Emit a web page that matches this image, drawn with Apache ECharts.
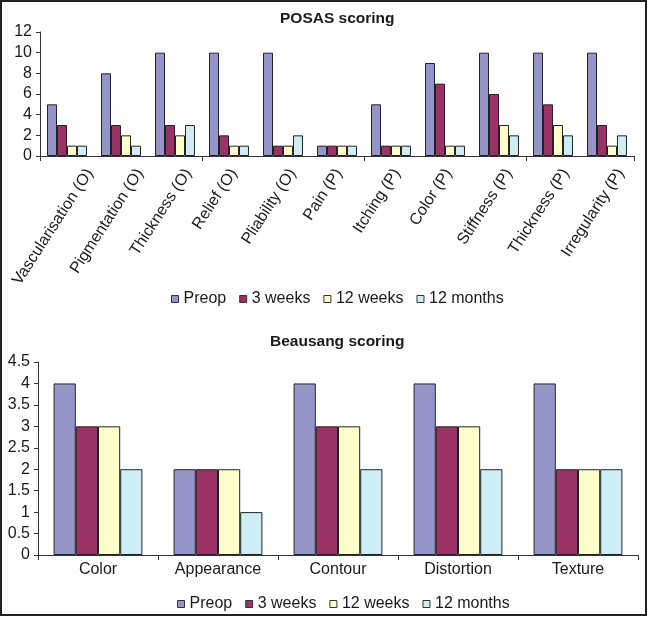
<!DOCTYPE html>
<html>
<head>
<meta charset="utf-8">
<script src="https://cdn.jsdelivr.net/npm/echarts@6/dist/echarts.min.js"></script>
<style>
html,body{margin:0;padding:0;background:#fff;}
#c{width:648px;height:617px;}
</style>
</head>
<body>
<div id="c"></div>
<script>
// ---- Data ----
var seriesNames = ['Preop', '3 weeks', '12 weeks', '12 months'];

var posasCategories = ['Vascularisation (O)', 'Pigmentation (O)', 'Thickness (O)', 'Relief (O)', 'Pliability (O)',
  'Pain (P)', 'Itching (P)', 'Color (P)', 'Stiffness (P)', 'Thickness (P)', 'Irregularity (P)'];
var posasPreop    = [5, 8, 10, 10, 10, 1, 5, 9, 10, 10, 10];
var posas3weeks   = [3, 3, 3, 2, 1, 1, 1, 7, 6, 5, 3];
var posas12weeks  = [1, 2, 2, 1, 1, 1, 1, 1, 3, 3, 1];
var posas12months = [1, 1, 3, 1, 2, 1, 1, 1, 2, 2, 2];

var beauCategories = ['Color', 'Appearance', 'Contour', 'Distortion', 'Texture'];
var beauPreop    = [4, 2, 4, 4, 4];
var beau3weeks   = [3, 2, 3, 3, 2];
var beau12weeks  = [3, 2, 3, 3, 2];
var beau12months = [2, 1, 2, 2, 2];

var posasTicks = [0, 2, 4, 6, 8, 10, 12];
var beauTicks = [0, 0.5, 1, 1.5, 2, 2.5, 3, 3.5, 4, 4.5];

// ---- Styling ----
var colors = ['#9595C9', '#993366', '#FFFFCC', '#CFEDF5'];
var FONT = 'Liberation Sans, Arial, sans-serif';
var txt = '#1a1a1a';
var LABEL_SIZE = 16;
var LABEL_ROT = 57;       // degrees
var LABEL_TOP = 166;      // top of rotated label boxes
var LABEL_SHIFT = -14;    // box centre relative to category centre

var chart = echarts.init(document.getElementById('c'), null, {renderer: 'canvas'});

function bars(name, data, xi, yi, ci) {
  return {
    name: name, type: 'bar', xAxisIndex: xi, yAxisIndex: yi, data: data,
    barGap: '0%', barCategoryGap: '26%',
    itemStyle: {color: colors[ci], borderColor: '#222', borderWidth: 1},
    emphasis: {disabled: true}, animation: false
  };
}

var axisLineStyle = {show: true, lineStyle: {color: '#333', width: 1}};
function legendCfg(top, left) {
  return {data: seriesNames.map(function (n) { return {name: n}; }), top: top, left: left,
    itemWidth: 7, itemHeight: 7, itemGap: 13, icon: 'rect',
    itemStyle: {borderColor: '#333', borderWidth: 1},
    textStyle: {fontFamily: FONT, fontSize: 16, color: txt, padding: [0, 0, 0, 0]}};
}

var borderRect = {type: 'rect', id: 'frame', shape: {x: 1, y: 1, width: 645, height: 614}, z: 100,
  style: {fill: 'none', stroke: '#222', lineWidth: 2}, silent: true};

var option = {
  animation: false,
  backgroundColor: '#fff',
  color: colors,
  textStyle: {fontFamily: FONT, color: txt},
  title: [
    {text: 'POSAS scoring', left: 275, top: 6,
      textStyle: {fontFamily: FONT, fontSize: 15.5, fontWeight: 'bold', color: txt}},
    {text: 'Beausang scoring', left: 265, top: 329,
      textStyle: {fontFamily: FONT, fontSize: 15.5, fontWeight: 'bold', color: txt}}
  ],
  legend: [legendCfg(286, 166), legendCfg(591, 172)],
  grid: [
    {left: 40, top: 32, width: 594, height: 124},
    {left: 38, top: 362, width: 600, height: 193}
  ],
  xAxis: [
    {type: 'category', gridIndex: 0, data: posasCategories,
      axisLine: axisLineStyle,
      axisTick: {show: true, length: 5, lineStyle: {color: '#333'}},
      axisLabel: {show: false}},
    {type: 'category', gridIndex: 1, data: beauCategories,
      axisLine: axisLineStyle,
      axisTick: {show: true, length: 5, lineStyle: {color: '#333'}},
      axisLabel: {show: true, margin: 7, interval: 0, fontFamily: FONT, fontSize: 16, color: txt}}
  ],
  yAxis: [
    {type: 'value', gridIndex: 0, min: posasTicks[0], max: posasTicks[posasTicks.length - 1], interval: 2,
      splitLine: {show: false}, axisLine: axisLineStyle,
      axisTick: {show: true, length: 4, lineStyle: {color: '#333'}},
      axisLabel: {margin: 8, fontFamily: FONT, fontSize: 16, color: txt}},
    {type: 'value', gridIndex: 1, min: beauTicks[0], max: beauTicks[beauTicks.length - 1], interval: 0.5,
      splitLine: {show: false}, axisLine: axisLineStyle,
      axisTick: {show: true, length: 4, lineStyle: {color: '#333'}},
      axisLabel: {margin: 8, fontFamily: FONT, fontSize: 16, color: txt}}
  ],
  graphic: [borderRect],
  series: [
    bars('Preop', posasPreop, 0, 0, 0),
    bars('3 weeks', posas3weeks, 0, 0, 1),
    bars('12 weeks', posas12weeks, 0, 0, 2),
    bars('12 months', posas12months, 0, 0, 3),
    bars('Preop', beauPreop, 1, 1, 0),
    bars('3 weeks', beau3weeks, 1, 1, 1),
    bars('12 weeks', beau12weeks, 1, 1, 2),
    bars('12 months', beau12months, 1, 1, 3)
  ]
};
chart.setOption(option);

// Rotated category labels for the POSAS chart, placed on the category axis positions
(function () {
  var ctx = document.createElement('canvas').getContext('2d');
  ctx.font = LABEL_SIZE + 'px ' + FONT;
  var th = LABEL_ROT * Math.PI / 180;
  var h = LABEL_SIZE;
  var els = [borderRect];
  posasCategories.forEach(function (cat, i) {
    var cx = chart.convertToPixel({xAxisIndex: 0}, cat);
    var L = ctx.measureText(cat).width;
    var boxH = L * Math.sin(th) + h * Math.cos(th);
    els.push({
      type: 'text', id: 'lbl' + i, silent: true,
      x: cx + LABEL_SHIFT, y: LABEL_TOP + boxH / 2, rotation: th,
      style: {text: cat, x: 0, y: 0, align: 'center', verticalAlign: 'middle',
        font: LABEL_SIZE + 'px ' + FONT, fill: txt}
    });
  });
  chart.setOption({graphic: els});
})();
</script>
</body>
</html>
